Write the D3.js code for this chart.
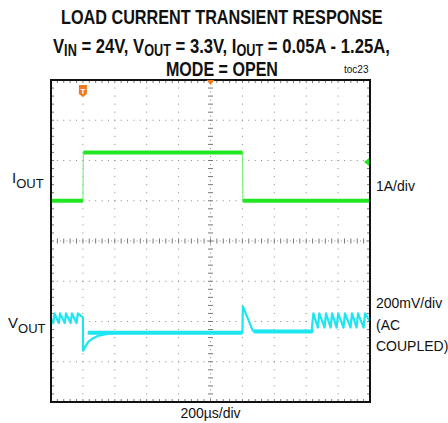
<!DOCTYPE html>
<html>
<head>
<meta charset="utf-8">
<script src="https://cdn.jsdelivr.net/npm/d3@7"></script>
<style>
  body { margin: 0; background: #fff; }
  svg { display: block; }
  text { font-family: "Liberation Sans", Arial, sans-serif; fill: #111; }
</style>
</head>
<body>
<svg id="chart"></svg>
<script>
// time axis: 200us/div, 10 divisions
const timeDomain = [0, 2000];
// current trace (us, A)
const ioutPoints = [[0, 0.05], [200, 0.05], [203, 1.25], [1200, 1.25], [1203, 0.05], [2000, 0.05]];
const ioutBands = [[0, 200, 0.05], [203, 1200, 1.25], [1203, 2000, 0.05]];
// output voltage, AC coupled (us, mV)
const leftPeaks = [22, 57, 94, 131, 168];
const leftRipple = [40, -8];
const voutStep = [[200, 20], [201, -145], [215, -125], [235, -100], [260, -85], [300, -70], [360, -60], [450, -55], [1200, -55],
  [1203, 75], [1265, -45], [1640, -50]];
const rightPeaks = [1645, 1682, 1724, 1762, 1800, 1843, 1887, 1925, 1969];
const rightRipple = [40, -30];
const voutBands = [[230, 1200, -56], [1270, 1640, -50]];

const W = 448, H = 423;
const pLeft = 51, pRight = 370, pTop = 80, pBottom = 402;

const svg = d3.select('#chart').attr('width', W).attr('height', H);

let x = d3.scaleLinear().domain(timeDomain).range([pLeft, pRight]);
let yDiv = d3.scaleLinear().domain([0, 8]).range([pTop, pBottom]);
let yI = d3.scaleLinear().domain([-4.95, 3.05]).range([pBottom, pTop]);     // 1A/div
let yV = d3.scaleLinear().domain([-400, 1200]).range([pBottom, pTop]);       // 200mV/div

// ---- grid ----
let grid = svg.append('g').attr('fill', '#888');
const dx = (pRight - pLeft) / 50, dy = (pBottom - pTop) / 40;
for (let i = 1; i < 8; i++) {
  if (i == 4) continue;
  d3.range(0, 51).forEach(k => {
    grid.append('rect').attr('x', pLeft + k * dx - 0.5).attr('y', yDiv(i) - 0.5).attr('width', 1).attr('height', 1);
  });
}
for (let i = 1; i < 10; i++) {
  if (i == 5) continue;
  let xx = pLeft + i * (pRight - pLeft) / 10;
  d3.range(0, 41).forEach(k => {
    grid.append('rect').attr('x', xx - 0.5).attr('y', pTop + k * dy - 0.5).attr('width', 1).attr('height', 1);
  });
}
// center crosshair with minor ticks
let cx = pLeft + (pRight - pLeft) / 2, cy = yDiv(4);
let cross = svg.append('g').attr('stroke', '#777').attr('stroke-width', 1);
d3.range(1, 50).forEach(k => {
  cross.append('line').attr('x1', pLeft + k * dx).attr('x2', pLeft + k * dx).attr('y1', cy - 2.5).attr('y2', cy + 2.5);
  grid.append('rect').attr('x', pLeft + k * dx + dx / 2 - 0.5).attr('y', cy - 0.5).attr('width', 1).attr('height', 1);
});
d3.range(1, 40).forEach(k => {
  cross.append('line').attr('y1', pTop + k * dy).attr('y2', pTop + k * dy).attr('x1', cx - 2.5).attr('x2', cx + 2.5);
  grid.append('rect').attr('x', cx - 0.5).attr('y', pTop + k * dy + dy / 2 - 0.5).attr('width', 1).attr('height', 1);
});
// border ticks
let bt = svg.append('g').attr('stroke', '#777').attr('stroke-width', 1);
d3.range(1, 50).forEach(k => {
  bt.append('line').attr('x1', pLeft + k * dx).attr('x2', pLeft + k * dx).attr('y1', pTop).attr('y2', pTop + 3);
  bt.append('line').attr('x1', pLeft + k * dx).attr('x2', pLeft + k * dx).attr('y1', pBottom).attr('y2', pBottom - 3);
});
d3.range(1, 40).forEach(k => {
  bt.append('line').attr('y1', pTop + k * dy).attr('y2', pTop + k * dy).attr('x1', pLeft).attr('x2', pLeft + 3);
  bt.append('line').attr('y1', pTop + k * dy).attr('y2', pTop + k * dy).attr('x1', pRight).attr('x2', pRight - 3);
});

// ---- traces ----
const green = '#22e622', cyan = '#1ee6f0';
let lineI = d3.line().x(d => x(d[0])).y(d => yI(d[1]));
svg.append('path').datum(ioutPoints).attr('d', lineI)
  .attr('fill', 'none').attr('stroke', '#7ef07e').attr('stroke-width', 1.2);
svg.selectAll('line.iband').data(ioutBands).enter().append('line')
  .attr('class', 'iband')
  .attr('x1', d => x(d[0])).attr('x2', d => x(d[1]))
  .attr('y1', d => yI(d[2])).attr('y2', d => yI(d[2]))
  .attr('stroke', green).attr('stroke-width', 4);

// build vout path from the read-off ripple peaks and step points
let vout = [[0, leftRipple[1] + 20]];
leftPeaks.forEach(p => { vout.push([p - 8, leftRipple[1]]); vout.push([p, leftRipple[0]]); });
vout = vout.concat(voutStep);
rightPeaks.forEach(p => { vout.push([p - 9, rightRipple[1]]); vout.push([p, rightRipple[0]]); });
vout.push([2000, rightRipple[1] + 30]);

let lineV = d3.line().x(d => x(d[0])).y(d => yV(d[1]));
svg.append('path').datum(vout).attr('d', lineV)
  .attr('fill', 'none').attr('stroke', cyan).attr('stroke-width', 2.2).attr('stroke-linejoin', 'round');
svg.selectAll('line.vband').data(voutBands).enter().append('line')
  .attr('class', 'vband')
  .attr('x1', d => x(d[0])).attr('x2', d => x(d[1]))
  .attr('y1', d => yV(d[2])).attr('y2', d => yV(d[2]))
  .attr('stroke', cyan).attr('stroke-width', 4);

// frame
svg.append('rect').attr('x', pLeft).attr('y', pTop).attr('width', pRight - pLeft).attr('height', pBottom - pTop)
  .attr('fill', 'none').attr('stroke', '#111').attr('stroke-width', 2);

// markers
let tx = x(200);
svg.append('path').attr('d', `M${tx - 4},85 h8 v9 l-4,3 l-4,-3 z`).attr('fill', '#f07a1e');
svg.append('text').attr('x', tx).attr('y', 93.5).attr('text-anchor', 'middle')
  .style('font-size', '8px').style('font-weight', 'bold').style('fill', '#fff').text('T');
svg.append('path').attr('d', `M${cx - 4},80 h8 l-4,5 z`).attr('fill', '#f07a1e');
let my = yDiv(2.04);
svg.append('path').attr('d', `M${pRight - 6},${my} l5,-4 v8 z`).attr('fill', green);

// ---- text ----
// bold condensed headline: draw at natural width, then squeeze horizontally to the target width
function headline(parts, cxp, yp, target) {
  let g = svg.append('g');
  let t = g.append('text').attr('x', 0).attr('y', 0)
    .style('font-size', '21px').style('font-weight', 'bold');
  parts.forEach((s, i) => {
    t.append('tspan').attr('dy', s[1] ? 3 : (i && parts[i - 1][1] ? -3 : 0))
      .style('font-size', s[1] ? '16px' : '21px').text(s[0]);
  });
  let w = t.node().getComputedTextLength();
  let k = target / w;
  g.attr('transform', `translate(${cxp - target / 2},${yp}) scale(${k},1)`);
}
headline([['LOAD CURRENT TRANSIENT RESPONSE', 0]], 222, 24, 322);
headline([['V', 0], ['IN', 1], [' = 24V, V', 0], ['OUT', 1], [' = 3.3V, I', 0], ['OUT', 1], [' = 0.05A - 1.25A,', 0]], 221.5, 53, 337);
headline([['MODE = OPEN', 0]], 222, 76, 112);

svg.append('text').attr('x', 344).attr('y', 73)
  .style('font-size', '10px').text('toc23');

function subLabel(xp, yp, main, sub) {
  let t = svg.append('text').attr('x', xp).attr('y', yp).style('font-size', '15px');
  t.append('tspan').text(main);
  t.append('tspan').attr('dy', 5).style('font-size', '13px').text(sub);
}
subLabel(12, 183, 'I', 'OUT');
subLabel(8, 328, 'V', 'OUT');

const rightLabels = [['1A/div', 191], ['200mV/div', 308], ['(AC', 330], ['COUPLED)', 351]];
svg.selectAll('text.rl').data(rightLabels).enter().append('text')
  .attr('class', 'rl').attr('x', 376).attr('y', d => d[1])
  .style('font-size', '14px').text(d => d[0]);

svg.append('text').attr('x', cx).attr('y', 418).attr('text-anchor', 'middle')
  .style('font-size', '14px').text('200µs/div');
</script>
</body>
</html>
